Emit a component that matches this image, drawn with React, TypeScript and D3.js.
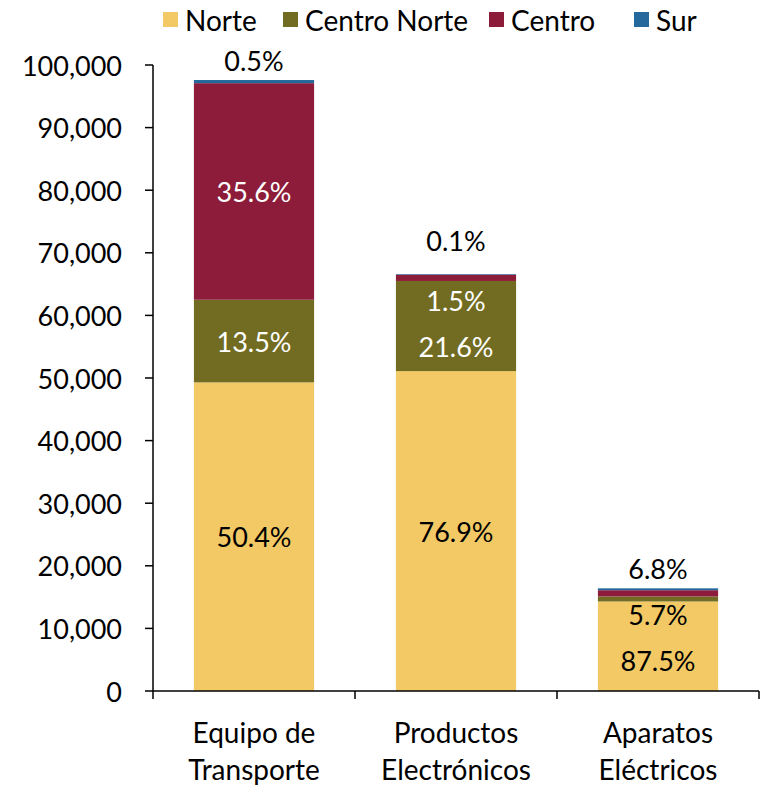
import React from "react";
import * as d3 from "d3";

// valores (unidades)
const categories = [
  ["Equipo de", "Transporte"],
  ["Productos", "Electrónicos"],
  ["Aparatos", "Eléctricos"],
];
const seriesNames = ["Norte", "Centro Norte", "Centro", "Sur"];
const norte = [49300, 51100, 14300];
const centroNorte = [13200, 14400, 800];
const centro = [34600, 1000, 1000];
const sur = [500, 100, 300];

const norteLabels = ["50.4%", "76.9%", "87.5%"];
const centroNorteLabels = ["13.5%", "21.6%", "5.7%"];
const centroLabels = ["35.6%", "1.5%", ""];
const surLabels = ["0.5%", "0.1%", "6.8%"];

const yTicks = [0, 10000, 20000, 30000, 40000, 50000, 60000, 70000, 80000, 90000, 100000];

const colors = ["#F2C964", "#716C22", "#8D1C3B", "#25689B"];
const darkText = [false, true, true, false];

const W = 763;
const H = 787;
const margin = { top: 65, right: 4, bottom: 96, left: 153 };
const FONT = "Lato, 'Open Sans', sans-serif";

export default function App() {
  const x = d3
    .scaleBand<number>()
    .domain(categories.map((_, i) => i))
    .range([margin.left, W - margin.right])
    .paddingInner(0)
    .paddingOuter(0);
  const y = d3.scaleLinear().domain([0, 100000]).range([H - margin.bottom, margin.top]);
  const fmt = d3.format(",");

  const rows = categories.map((_, i) => ({
    Norte: norte[i],
    "Centro Norte": centroNorte[i],
    Centro: centro[i],
    Sur: sur[i],
  }));
  const stacked = d3.stack<any>().keys(seriesNames)(rows);
  const labelSets = [norteLabels, centroNorteLabels, centroLabels, surLabels];

  const barW = x.bandwidth() * 0.595;

  // posición de etiquetas: Sur arriba de la barra, resto centrado y empujado hacia abajo
  const labels: { x: number; y: number; text: string; white: boolean }[] = [];
  categories.forEach((_, i) => {
    const cx = (x(i) as number) + x.bandwidth() / 2;
    const top = y(stacked[3][i][1]);
    // si la etiqueta de Centro cae en un segmento muy fino, la de Sur sube un poco
    const thinCentro = centroLabels[i] && y(stacked[2][i][0]) - y(stacked[2][i][1]) < 40;
    let prev = top - 20;
    labels.push({ x: cx, y: thinCentro ? top - 34 : prev, text: surLabels[i], white: false });
    for (let s = 2; s >= 0; s--) {
      const txt = labelSets[s][i];
      if (!txt) continue;
      const seg = stacked[s][i];
      const center = (y(seg[0]) + y(seg[1])) / 2;
      const ly = Math.max(center, prev + 46);
      prev = ly;
      // color según el segmento donde cae la etiqueta
      let inside = -1;
      for (let k = 0; k < 4; k++) {
        const d = stacked[k][i];
        if (ly <= y(d[0]) && ly >= y(d[1])) inside = k;
      }
      labels.push({ x: cx, y: ly, text: txt, white: inside >= 0 && darkText[inside] });
    }
  });

  const legendX = [163, 283, 489, 634];
  const baseY = y(0);

  return (
    <svg width={W} height={H} style={{ display: "block", position: "absolute", left: 0, top: 0 }} fontFamily={FONT}>
      <rect width={W} height={H} fill="#fff" />
      {/* leyenda */}
      {seriesNames.map((name, k) => (
        <g key={name}>
          <rect x={legendX[k]} y={12} width={15} height={15} fill={colors[k]} />
          <text x={legendX[k] + 22} y={20} dominantBaseline="central" fontSize={28} fill="#000">
            {name}
          </text>
        </g>
      ))}
      {/* barras */}
      {stacked.map((layer, k) => (
        <g key={k} fill={colors[k]}>
          {layer.map((d, i) => (
            <rect
              key={i}
              x={(x(i) as number) + (x.bandwidth() - barW) / 2}
              y={y(d[1])}
              width={barW}
              height={y(d[0]) - y(d[1])}
            />
          ))}
        </g>
      ))}
      {/* eje y */}
      <line x1={margin.left} x2={margin.left} y1={y(100000)} y2={baseY} stroke="#000" strokeWidth={1.5} />
      {yTicks.map((t) => (
        <g key={t}>
          <line x1={margin.left - 8} x2={margin.left} y1={y(t)} y2={y(t)} stroke="#000" strokeWidth={1.5} />
          <text x={122} y={y(t)} textAnchor="end" dominantBaseline="central" fontSize={27} fill="#000">
            {fmt(t)}
          </text>
        </g>
      ))}
      {/* eje x */}
      <line x1={margin.left} x2={W - margin.right} y1={baseY} y2={baseY} stroke="#000" strokeWidth={1.5} />
      {categories.map((_, i) => (
        <line
          key={i}
          x1={(x(i) as number)}
          x2={(x(i) as number)}
          y1={baseY}
          y2={baseY + 8}
          stroke="#000"
          strokeWidth={1.5}
        />
      ))}
      <line x1={W - margin.right} x2={W - margin.right} y1={baseY} y2={baseY + 8} stroke="#000" strokeWidth={1.5} />
      {categories.map((lines, i) => (
        <text key={i} x={(x(i) as number) + x.bandwidth() / 2} textAnchor="middle" fontSize={28} fill="#000">
          {lines.map((l, j) => (
            <tspan key={j} x={(x(i) as number) + x.bandwidth() / 2} y={743 + j * 37}>
              {l}
            </tspan>
          ))}
        </text>
      ))}
      {/* etiquetas de porcentaje */}
      {labels.map((l, i) => (
        <text
          key={i}
          x={l.x}
          y={l.y}
          textAnchor="middle"
          dominantBaseline="central"
          fontSize={27}
          fill={l.white ? "#fff" : "#000"}
        >
          {l.text}
        </text>
      ))}
    </svg>
  );
}
